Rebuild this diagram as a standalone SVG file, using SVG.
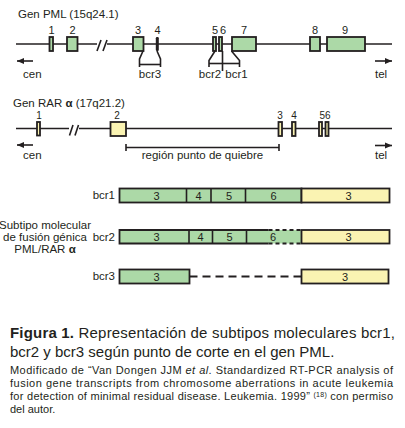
<svg xmlns="http://www.w3.org/2000/svg" width="405" height="428" viewBox="0 0 405 428">
<style>
text{font-family:"Liberation Sans",Arial,sans-serif;fill:#231f20}
.t{font-size:11.5px}
.n{font-size:11px;text-anchor:middle}
.ns{font-size:10px;text-anchor:middle}
.ln{stroke:#231f20;stroke-width:1.6;fill:none}
.g{fill:#acd9a7;stroke:#231f20;stroke-width:1.8}
.y{fill:#faf3b2;stroke:#231f20;stroke-width:1.8}
.cap{font-size:15px}
.sm{font-size:11px}
</style>
<defs>
<marker id="ah" markerWidth="8" markerHeight="8" refX="7" refY="4" orient="auto" markerUnits="userSpaceOnUse">
<path d="M0,1 L7,4 L0,7 Z" fill="#231f20"/>
</marker>
</defs>
<rect width="405" height="428" fill="#fff"/>

<g id="pml-gene">
<text class="t" x="18" y="18">Gen PML (15q24.1)</text>
<line class="ln" x1="16" y1="44" x2="97" y2="44"/>
<line class="ln" x1="107" y1="44" x2="392" y2="44"/>
<line class="ln" x1="97" y1="51" x2="101" y2="40"/>
<line class="ln" x1="103" y1="51" x2="107" y2="40"/>
<rect class="g" x="49.5" y="37" width="3.5" height="14"/>
<rect class="g" x="67" y="37" width="10.5" height="14"/>
<rect class="g" x="133" y="37" width="10.5" height="14"/>
<rect x="155.8" y="37" width="3" height="14" rx="1.2" fill="#231f20"/>
<rect class="g" x="213" y="37" width="3" height="14"/>
<rect class="g" x="219" y="37" width="3" height="14"/>
<rect class="g" x="232" y="37" width="24" height="14"/>
<rect class="g" x="310" y="37" width="10" height="14"/>
<rect class="g" x="327" y="37" width="38" height="14"/>
<text class="n" x="51.5" y="34">1</text>
<text class="n" x="72.5" y="34">2</text>
<text class="n" x="138" y="34">3</text>
<text class="n" x="157.5" y="34">4</text>
<text class="n" x="215" y="34">5</text>
<text class="n" x="223" y="34">6</text>
<text class="n" x="244" y="34">7</text>
<text class="n" x="315" y="34">8</text>
<text class="n" x="345" y="34">9</text>
<text class="t" x="23" y="78">cen</text>
<text class="t" x="375" y="78">tel</text>
</g>

<g id="pml-brackets">
<polyline class="ln" points="143,51 139.5,59 139.5,67"/>
<polyline class="ln" points="157,51 160.5,59 160.5,67"/>
<line class="ln" x1="139.5" y1="64.5" x2="160.5" y2="64.5"/>
<text class="t" x="150" y="78" text-anchor="middle">bcr3</text>
<polyline class="ln" points="215,51 209,60.5 209,67"/>
<polyline class="ln" points="231.5,51 239.5,60.5 239.5,67"/>
<line class="ln" x1="222.5" y1="51" x2="222.5" y2="71"/>
<line class="ln" x1="209" y1="63.5" x2="239.5" y2="63.5"/>
<text class="t" x="210" y="78" text-anchor="middle">bcr2</text>
<text class="t" x="236.5" y="78" text-anchor="middle">bcr1</text>
</g>

<g id="rar-gene">
<text class="t" x="13" y="107">Gen RAR <tspan font-weight="bold">α</tspan> (17q21.2)</text>
<line class="ln" x1="16" y1="128.5" x2="69" y2="128.5"/>
<line class="ln" x1="79" y1="128.5" x2="392" y2="128.5"/>
<line class="ln" x1="69.5" y1="135.5" x2="73" y2="125"/>
<line class="ln" x1="75" y1="135.5" x2="78.5" y2="125"/>
<rect class="y" x="37" y="122" width="3" height="13.5"/>
<rect class="y" x="110.5" y="122" width="15.5" height="14"/>
<rect class="y" x="278.5" y="122" width="3.5" height="14"/>
<rect class="y" x="292" y="122" width="3.5" height="14"/>
<rect class="y" x="319" y="122" width="3" height="14"/>
<rect class="y" x="325.5" y="122" width="3" height="14"/>
<text class="ns" x="39" y="119">1</text>
<text class="ns" x="117" y="119">2</text>
<text class="ns" x="280" y="119">3</text>
<text class="ns" x="294" y="119">4</text>
<text class="ns" x="325" y="119">56</text>
<line class="ln" x1="126" y1="147.5" x2="279" y2="147.5"/>
<line class="ln" x1="126" y1="144" x2="126" y2="151"/>
<line class="ln" x1="279" y1="144" x2="279" y2="151"/>
<text class="t" x="202.5" y="159" text-anchor="middle">región punto de quiebre</text>
<text class="t" x="23" y="159">cen</text>
<text class="t" x="375" y="159">tel</text>
</g>

<g id="connectors">
<line class="ln" x1="33" y1="61" x2="17" y2="61" marker-end="url(#ah)"/>
<line class="ln" x1="375" y1="61" x2="392" y2="61" marker-end="url(#ah)"/>
<line class="ln" x1="33" y1="145" x2="17" y2="145" marker-end="url(#ah)"/>
<line class="ln" x1="375" y1="145.5" x2="392" y2="145.5" marker-end="url(#ah)"/>
</g>

<g id="subtype-label">
<text class="t" x="45" y="229" text-anchor="middle">Subtipo molecular</text>
<text class="t" x="45" y="241" text-anchor="middle">de fusión génica</text>
<text class="t" x="45" y="253" text-anchor="middle">PML/RAR <tspan font-weight="bold">α</tspan></text>
</g>

<g id="bcr1">
<text class="t" x="115" y="199" text-anchor="end">bcr1</text>
<rect class="g" x="119.5" y="188.5" width="182" height="14"/>
<rect class="y" x="301.5" y="188.5" width="88" height="14"/>
<line class="ln" x1="186.5" y1="188.5" x2="186.5" y2="202.5"/>
<line class="ln" x1="211" y1="188.5" x2="211" y2="202.5"/>
<line class="ln" x1="245.5" y1="188.5" x2="245.5" y2="202.5"/>
<text class="n" x="156.5" y="199.5">3</text>
<text class="n" x="198.5" y="199.5">4</text>
<text class="n" x="229" y="199.5">5</text>
<text class="n" x="273.5" y="199.5">6</text>
<text class="n" x="348.5" y="199.5">3</text>
</g>

<g id="bcr2">
<text class="t" x="115" y="240.5" text-anchor="end">bcr2</text>
<rect x="119.5" y="230" width="182" height="13.5" fill="#acd9a7"/>
<polyline class="ln" style="stroke-width:1.8" points="268.5,230 119.5,230 119.5,243.5 268.5,243.5"/>
<line class="ln" style="stroke-width:1.8" x1="268.5" y1="230" x2="301.5" y2="230" stroke-dasharray="4,3"/>
<line class="ln" style="stroke-width:1.8" x1="268.5" y1="243.5" x2="301.5" y2="243.5" stroke-dasharray="4,3"/>
<rect class="y" x="301.5" y="230" width="88" height="13.5"/>
<line class="ln" x1="189" y1="230" x2="189" y2="243.5"/>
<line class="ln" x1="212.5" y1="230" x2="212.5" y2="243.5"/>
<line class="ln" x1="246.5" y1="230" x2="246.5" y2="243.5"/>
<text class="n" x="156.5" y="240.5">3</text>
<text class="n" x="200.5" y="240.5">4</text>
<text class="n" x="229.5" y="240.5">5</text>
<text class="n" x="273" y="240.5">6</text>
<text class="n" x="348.5" y="240.5">3</text>
</g>

<g id="bcr3">
<text class="t" x="115" y="280" text-anchor="end">bcr3</text>
<rect class="g" x="119.5" y="269.5" width="70" height="14"/>
<line class="ln" style="stroke-width:1.8" x1="189.5" y1="276.5" x2="301.5" y2="276.5" stroke-dasharray="8,5"/>
<rect class="y" x="301.5" y="269.5" width="87" height="14"/>
<text class="n" x="156.5" y="280.5">3</text>
<text class="n" x="345" y="280.5">3</text>
</g>

<g id="caption">
<text class="cap" x="10" y="338" textLength="385" lengthAdjust="spacing"><tspan font-weight="bold">Figura 1.</tspan> Representación de subtipos moleculares bcr1,</text>
<text class="cap" x="10" y="357">bcr2 y bcr3 según punto de corte en el gen PML.</text>
<text class="sm" x="10" y="374" textLength="383" lengthAdjust="spacing">Modificado de “Van Dongen JJM <tspan font-style="italic">et al</tspan>. Standardized RT-PCR analysis of</text>
<text class="sm" x="10" y="387" textLength="383" lengthAdjust="spacing">fusion gene transcripts from chromosome aberrations in acute leukemia</text>
<text class="sm" x="10" y="400" textLength="383" lengthAdjust="spacing">for detection of minimal residual disease. Leukemia. 1999” <tspan font-size="7" dy="-3">(18)</tspan><tspan dy="3"> con permiso</tspan></text>
<text class="sm" x="10" y="413">del autor.</text>
</g>
</svg>
